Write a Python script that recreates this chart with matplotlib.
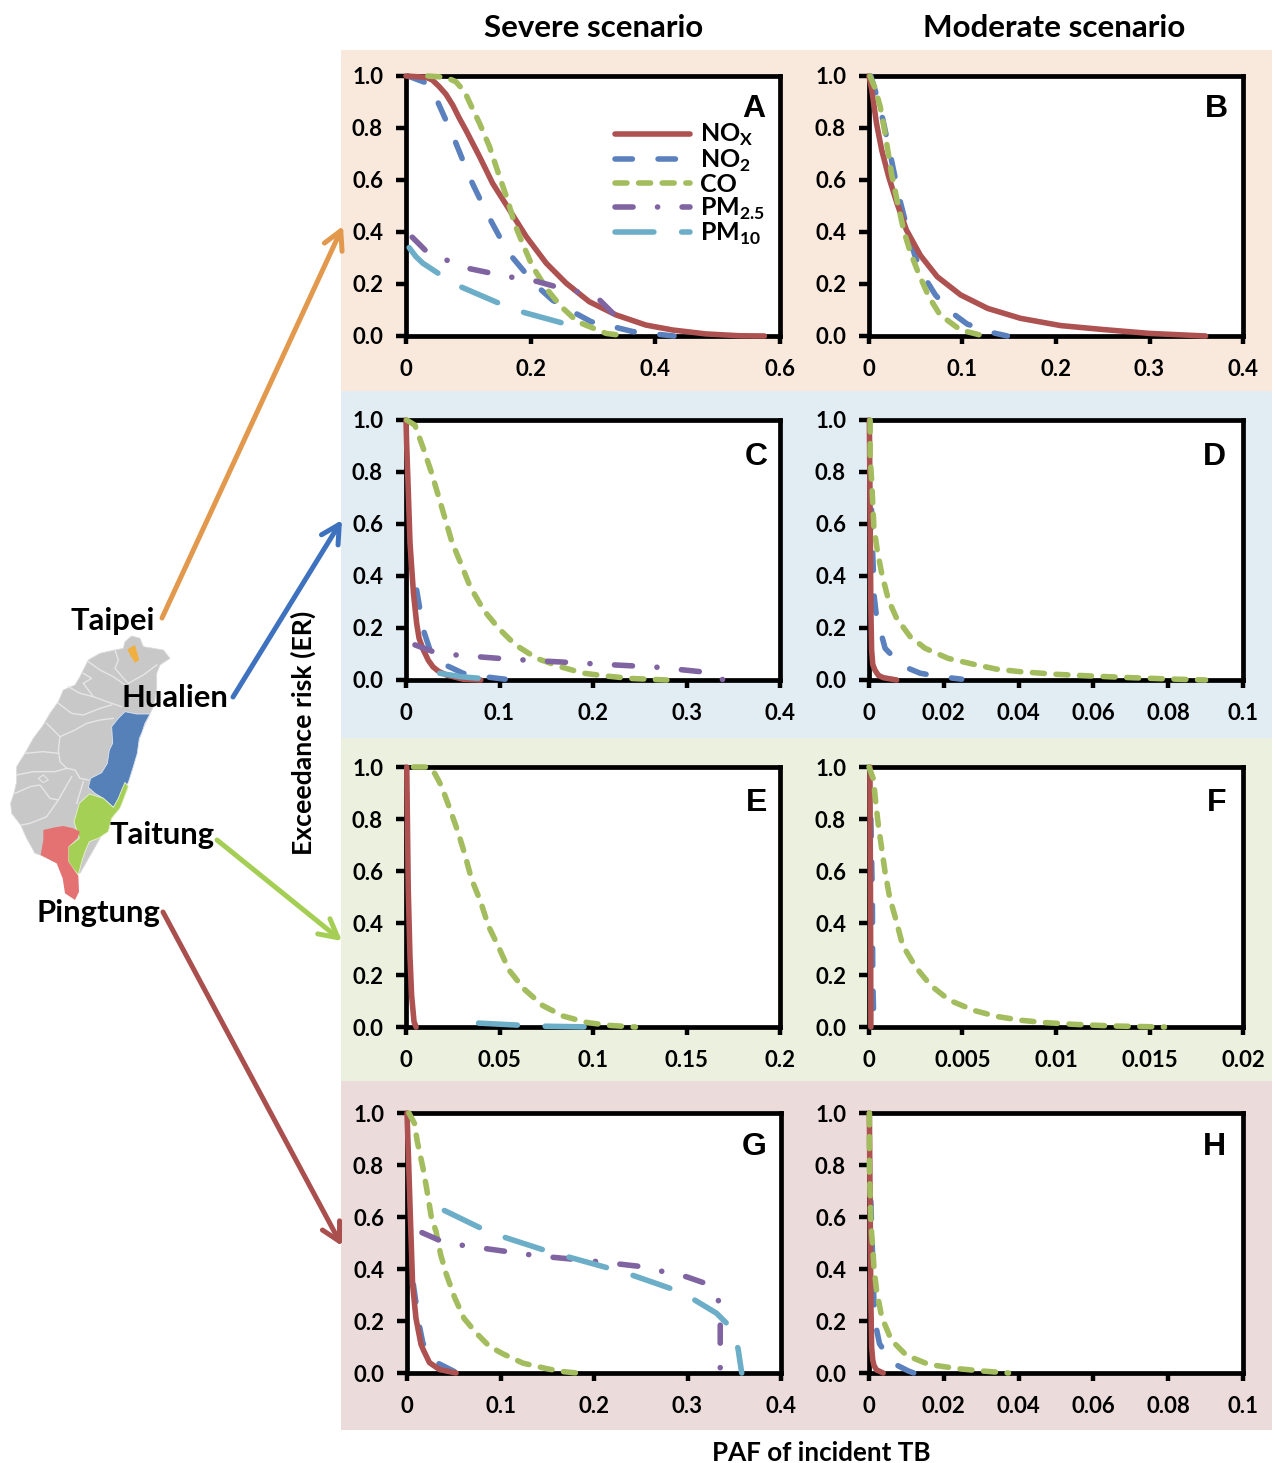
#!/usr/bin/env python3
import matplotlib
matplotlib.use('Agg')
import matplotlib.pyplot as plt
from matplotlib.patches import Polygon, Rectangle

plt.rcParams['font.family'] = ['Lato', 'DejaVu Sans']
plt.rcParams['font.weight'] = 'bold'
plt.rcParams['mathtext.fontset'] = 'custom'
plt.rcParams['mathtext.bf'] = 'Lato:bold'
plt.rcParams['lines.scale_dashes'] = False

W, H = 1275, 1463

# curves, (x, y) per panel
A_nox = [(0, 1), (.032, .995), (.042, .985), (.053, .96), (.064, .93), (.075, .888), (.085, .84), (.096, .792), (.118, .69), (.139, .587), (.166, .485), (.193, .382), (.225, .28), (.257, .203), (.294, .132), (.337, .081), (.385, .042), (.428, .023), (.481, .008), (.535, .001), (.575, 0)]
A_no2 = [(.003, 1), (.032, .974), (.051, .9), (.064, .83), (.078, .754), (.091, .677), (.104, .6), (.118, .53), (.134, .453), (.15, .382), (.168, .31), (.19, .247), (.211, .19), (.235, .138), (.267, .094), (.297, .055), (.332, .036), (.364, .017), (.398, .008), (.43, 0)]
A_co = [(.035, 1), (.064, .995), (.08, .978), (.094, .94), (.104, .888), (.118, .818), (.134, .728), (.15, .613), (.163, .523), (.174, .433), (.187, .356), (.203, .267), (.227, .177), (.249, .113), (.275, .055), (.321, .01), (.353, 0)]
A_pm25 = [(.01, .38), (.033, .325), (.067, .29), (.1, .26), (.134, .243), (.17, .226), (.21, .21), (.24, .19), (.275, .17), (.31, .14), (.335, .08)]
A_pm10 = [(.005, .34), (.016, .305), (.027, .28), (.06, .228), (.09, .187), (.155, .12), (.19, .09), (.257, .046), (.27, 0)]

B_nox = [(0, 1), (.003, .946), (.008, .818), (.0136, .715), (.021, .613), (.03, .51), (.04, .408), (.055, .31), (.073, .228), (.098, .158), (.127, .106), (.162, .068), (.205, .04), (.25, .025), (.3, .01), (.36, 0)]
B_no2 = [(.002, 1), (.0065, .946), (.015, .83), (.024, .677), (.033, .523), (.044, .369), (.0495, .305), (.06, .222), (.071, .158), (.087, .094), (.105, .046), (.127, .017), (.148, 0)]
B_co = [(.001, 1), (.0065, .953), (.012, .882), (.0172, .78), (.024, .626), (.03, .523), (.037, .408), (.044, .324), (.053, .241), (.064, .151), (.076, .081), (.098, .023), (.123, 0)]

C_nox = [(0, 1), (.0007, .91), (.0025, .72), (.0043, .525), (.008, .333), (.0114, .218), (.014, .16), (.0186, .115), (.024, .075), (.029, .05), (.035, .033), (.0436, .019), (.061, .003), (.08, 0)]
C_no2 = [(.0114, .346), (.0186, .192), (.0257, .115), (.042, .058), (.061, .026), (.083, .013), (.106, .003)]
C_co = [(.0007, 1), (.0096, .98), (.0186, .89), (.0275, .795), (.038, .667), (.049, .532), (.06, .436), (.0686, .359), (.083, .269), (.099, .199), (.117, .135), (.14, .083), (.165, .051), (.19, .026), (.215, .015), (.24, .006), (.279, 0)]
C_pm25 = [(.0096, .135), (.029, .109), (.054, .096), (.1, .083), (.126, .077), (.172, .068), (.197, .063), (.244, .054), (.269, .049), (.315, .032), (.34, 0)]
C_pm10 = [(.036, .026), (.058, .013), (.083, .005), (.085, 0)]

D_nox = [(.0001, 1), (.0003, .65), (.0005, .27), (.0007, .115), (.001, .06), (.0016, .038), (.0025, .018), (.0038, .009), (.0074, 0)]
D_no2 = [(.0007, .654), (.001, .487), (.0014, .32), (.002, .244), (.003, .192), (.0043, .122), (.0088, .055), (.0137, .026), (.019, .013), (.0248, .003)]
D_co = [(.0003, 1), (.0003, .859), (.0007, .77), (.001, .68), (.0013, .59), (.0022, .5), (.0034, .41), (.0052, .308), (.0074, .237), (.011, .167), (.015, .122), (.0212, .083), (.0275, .062), (.034, .042), (.0404, .032), (.05, .022), (.06, .015), (.07, .009), (.08, .004), (.09, 0)]

E_nox = [(.0004, 1), (.0012, .53), (.0021, .276), (.003, .122), (.0043, .02), (.0054, 0)]
E_co = [(.004, 1), (.012, 1), (.0155, .974), (.019, .926), (.0236, .836), (.028, .746), (.0316, .66), (.035, .57), (.04, .48), (.044, .39), (.05, .3), (.055, .22), (.063, .147), (.073, .083), (.084, .042), (.097, .017), (.109, .006), (.1227, 0)]
E_pm10 = [(.0388, .015), (.063, .006), (.0745, .003), (.0995, 0)]

F_nox = [(.00005, 1), (.00008, .5), (.0001, 0)]
F_no2 = [(.0001, .8), (.00018, .5), (.0002, .2), (.00025, .03), (.0005, 0)]
F_co = [(0, 1), (.00023, .955), (.00036, .865), (.0005, .776), (.00068, .686), (.00086, .596), (.0011, .5), (.00145, .41), (.0018, .314), (.0025, .23), (.0033, .16), (.0043, .103), (.0056, .064), (.0068, .041), (.0081, .026), (.0094, .017), (.011, .01), (.013, .004), (.0158, 0)]

G_nox = [(0, 1), (.0014, .85), (.0036, .6), (.006, .34), (.0096, .21), (.012, .165), (.015, .11), (.018, .085), (.024, .04), (.028, .03), (.035, .013), (.0525, 0)]
G_no2 = [(.0068, .34), (.013, .186), (.017, .115), (.029, .045), (.051, .005)]
G_co = [(.002, 1), (.008, .96), (.011, .89), (.017, .79), (.021, .71), (.026, .6), (.031, .545), (.036, .455), (.042, .38), (.051, .29), (.061, .21), (.074, .154), (.088, .103), (.103, .073), (.124, .038), (.149, .017), (.165, .006), (.182, 0)]
G_pm25 = [(.016, .54), (.038, .505), (.061, .49), (.085, .478), (.131, .455), (.156, .445), (.2, .43), (.249, .41), (.274, .39), (.299, .37), (.319, .345), (.333, .28), (.335, .185), (.335, .11), (.335, .02)]
G_pm10 = [(.04, .625), (.083, .55), (.106, .52), (.149, .47), (.174, .445), (.219, .4), (.242, .375), (.286, .32), (.308, .28), (.331, .23), (.345, .18), (.354, .095), (.358, 0)]

H_nox = [(.0001, 1), (.0003, .66), (.0005, .28), (.0007, .1), (.001, .05), (.0013, .03), (.002, .012), (.0038, 0)]
H_no2 = [(.0005, .66), (.001, .43), (.0013, .28), (.0019, .177), (.0028, .113), (.0061, .04), (.0105, .008), (.012, 0)]
H_co = [(.0001, 1), (.0001, .79), (.0003, .68), (.0005, .575), (.001, .485), (.0013, .41), (.002, .32), (.0034, .215), (.006, .126), (.01, .068), (.016, .033), (.0235, .017), (.03, .008), (.0373, 0)]

y_ticks = [0, .2, .4, .6, .8, 1]
x_ticks = {
    'A': ['0', '0.2', '0.4', '0.6'], 'B': ['0', '0.1', '0.2', '0.3', '0.4'],
    'C': ['0', '0.1', '0.2', '0.3', '0.4'], 'D': ['0', '0.02', '0.04', '0.06', '0.08', '0.1'],
    'E': ['0', '0.05', '0.1', '0.15', '0.2'], 'F': ['0', '0.005', '0.01', '0.015', '0.02'],
    'G': ['0', '0.1', '0.2', '0.3', '0.4'], 'H': ['0', '0.02', '0.04', '0.06', '0.08', '0.1'],
}
# series order is the legend order: NOx, NO2, CO, PM2.5, PM10
curves = {
    'A': [A_nox, A_no2, A_co, A_pm25, A_pm10], 'B': [B_nox, B_no2, B_co, None, None],
    'C': [C_nox, C_no2, C_co, C_pm25, C_pm10], 'D': [D_nox, D_no2, D_co, None, None],
    'E': [E_nox, None, E_co, None, E_pm10], 'F': [F_nox, F_no2, F_co, None, None],
    'G': [G_nox, G_no2, G_co, G_pm25, G_pm10], 'H': [H_nox, H_no2, H_co, None, None],
}
series_labels = [r'NO$_{\mathbf{X}}$', r'NO$_{\mathbf{2}}$', 'CO', r'PM$_{\mathbf{2.5}}$', r'PM$_{\mathbf{10}}$']
colors = ['#AD5250', '#5B80BE', '#A3BD5E', '#8064A2', '#6CADC8']
dashes = ['-', (0, (12.5, 18.5)), (0, (8.6, 8.4)), (0, (13, 17.6, 0.1, 17.6)), (0, (28, 20))]
z_orders = [4.1, 4, 4.2, 4.3, 4.4]

# map outlines, in coordinates of a 3x crop whose corner is (0, 590) in the picture
island = [(375, 155), (395, 138), (420, 145), (430, 170), (460, 175), (490, 180), (510, 205), (480, 225), (470, 250), (470, 300), (462, 345), (450, 372), (425, 425), (412, 470), (400, 530), (385, 575), (350, 650), (300, 745), (240, 850), (120, 795), (105, 790), (80, 745), (62, 705), (35, 670), (32, 640), (42, 610), (50, 575), (50, 530), (75, 490), (100, 445), (130, 405), (150, 370), (175, 335), (190, 300), (225, 285), (240, 260), (265, 210), (300, 190), (345, 180), (370, 175)]
hualien = [(375, 365), (410, 372), (450, 372), (435, 400), (425, 430), (418, 445), (412, 490), (400, 530), (385, 578), (365, 610), (350, 640), (340, 652), (310, 625), (285, 610), (265, 592), (272, 565), (305, 548), (322, 520), (328, 480), (338, 460), (335, 410), (355, 385)]
taitung = [(375, 577), (385, 590), (370, 630), (360, 655), (335, 685), (325, 725), (295, 745), (268, 755), (255, 785), (245, 815), (235, 855), (215, 830), (205, 815), (205, 770), (238, 745), (222, 695), (238, 640), (268, 612), (310, 625), (340, 652), (355, 625), (365, 600)]
pingtung = [(130, 720), (165, 712), (190, 708), (220, 715), (240, 725), (232, 745), (205, 770), (205, 815), (235, 858), (237, 905), (225, 930), (195, 910), (188, 865), (170, 820), (122, 795), (130, 750)]
taipei = [(382, 178), (405, 165), (412, 190), (418, 210), (405, 218), (392, 198)]
lake = [(115, 565), (130, 555), (145, 570), (130, 578)]
borders = [
    [(345, 180), (355, 210), (345, 235), (375, 270), (385, 280), (430, 255), (470, 225)],
    [(265, 215), (300, 240), (340, 260), (375, 285)],
    [(250, 250), (275, 265), (250, 280), (280, 320)],
    [(205, 290), (240, 310), (280, 320), (335, 340), (365, 350)],
    [(175, 340), (215, 370), (250, 375), (300, 355), (335, 345)],
    [(140, 400), (180, 440), (225, 420), (260, 400), (300, 390), (340, 385)],
    [(180, 440), (175, 480), (180, 515), (200, 535), (225, 540), (240, 565), (265, 570)],
    [(75, 490), (130, 485), (175, 490)],
    [(50, 555), (100, 545), (165, 545), (200, 535)],
    [(45, 610), (90, 590), (120, 585), (150, 625), (175, 630), (215, 560)],
    [(175, 630), (140, 680), (90, 700), (65, 705)],
    [(250, 575), (230, 640)],
]


def map_px(pts):
    return [(x / 3, 590 + y / 3) for x, y in pts]


fig = plt.figure(figsize=(W / 100, H / 100), dpi=100)
bg = fig.add_axes([0, 0, 1, 1])
bg.set_xlim(0, W)
bg.set_ylim(H, 0)
bg.axis('off')

# coloured bands behind each row
band_edges = [50, 391, 738, 1081, 1430]
band_colors = ['#F9E9DC', '#E1ECF3', '#EBF0DF', '#EBDBDB']
for top, bottom, c in zip(band_edges[:-1], band_edges[1:], band_colors):
    bg.add_patch(Rectangle((341, top), 931, bottom - top, color=c, lw=0))

# map
bg.add_patch(Polygon(map_px(island), fc='#C8C8C8', ec='#DADADA', lw=0.6))
for b in borders:
    bg.plot(*zip(*map_px(b)), color='#E6E6E6', lw=1.0)
bg.add_patch(Polygon(map_px(lake), fc='#C8C8C8', ec='#E6E6E6', lw=0.8))
bg.add_patch(Polygon(map_px(hualien), fc='#5680B8', ec='#DDE6F0', lw=0.6))
bg.add_patch(Polygon(map_px(taitung), fc='#A5D056', ec='#E8F2D0', lw=0.6))
bg.add_patch(Polygon(map_px(pingtung), fc='#E57272', ec='none'))
bg.add_patch(Polygon(map_px(taipei), fc='#F0B040', ec='none'))

for name, x, y in [('Taipei', 113, 621), ('Hualien', 175, 698), ('Taitung', 162, 835), ('Pingtung', 98, 913)]:
    bg.text(x, y, name, fontsize=22.3, ha='center', va='center', color='black')

# arrows from the counties to the rows
arrows = [((162, 618), (343, 226), '#E2994E'), ((233, 697), (342, 520), '#3F72BE'),
          ((217, 840), (342, 941), '#A5CE55'), ((163, 912), (342, 1246), '#A94F4D')]
for start, end, c in arrows:
    bg.annotate('', xy=end, xytext=start, xycoords='data',
                arrowprops=dict(arrowstyle='->,head_length=1.3,head_width=0.7', color=c, lw=3.6,
                                shrinkA=0, shrinkB=0, capstyle='round'))

bg.text(594, 28, 'Severe scenario', fontsize=22.4, ha='center', va='center')
bg.text(1054, 28, 'Moderate scenario', fontsize=22.6, ha='center', va='center')
bg.text(821, 1453, 'PAF of incident TB', fontsize=18.7, ha='center', va='center')
bg.text(303, 733, 'Exceedance risk (ER)', fontsize=19.2, ha='center', va='center', rotation=90)

# panel positions in pixels: left, top
boxes = {'A': (406, 76), 'B': (869, 76), 'C': (406, 420), 'D': (869, 420),
         'E': (406, 767), 'F': (869, 767), 'G': (407, 1113), 'H': (869, 1113)}
letter_at = {'A': (348, 33), 'B': (347, 33), 'C': (350, 37), 'D': (345, 37),
             'E': (351, 36), 'F': (348, 36), 'G': (347, 34), 'H': (345, 34)}
box_w, box_h = 374, 260

for letter, (left, top) in boxes.items():
    ax = fig.add_axes([left / W, 1 - (top + box_h) / H, box_w / W, box_h / H])
    labels = x_ticks[letter]
    vals = [float(t) for t in labels]
    for xy, c, d, lab, z in zip(curves[letter], colors, dashes, series_labels, z_orders):
        if xy is None:
            continue
        ax.plot(*zip(*xy), color=c, ls=d, lw=4.0, clip_on=False, zorder=z,
                dash_capstyle='round', solid_capstyle='round', dash_joinstyle='round',
                solid_joinstyle='round', label=lab)
    ax.set_xlim(0, vals[-1])
    ax.set_ylim(0, 1)
    ax.set_xticks(vals)
    ax.set_xticklabels(labels)
    ax.set_yticks(y_ticks)
    ax.set_yticklabels(['%.1f' % v for v in y_ticks])
    ax.tick_params(axis='x', length=6, width=3.2, labelsize=16, pad=10.5)
    ax.tick_params(axis='y', length=7, width=3.2, labelsize=16, pad=9.5)
    for s in ax.spines.values():
        s.set_linewidth(3.4)
    lx, ly = letter_at[letter]
    ax.text(lx / box_w, 1 - ly / box_h, letter, transform=ax.transAxes, fontsize=23, ha='center',
            va='center', family='Liberation Sans', weight='bold')
    if letter == 'A':
        ax.legend(loc='upper left', bbox_to_anchor=(0.558, 0.822), frameon=False, fontsize=18,
                  handlelength=3.0, handletextpad=0.42, labelspacing=-0.03, borderpad=0, borderaxespad=0)

fig.savefig('out.png', dpi=100)
